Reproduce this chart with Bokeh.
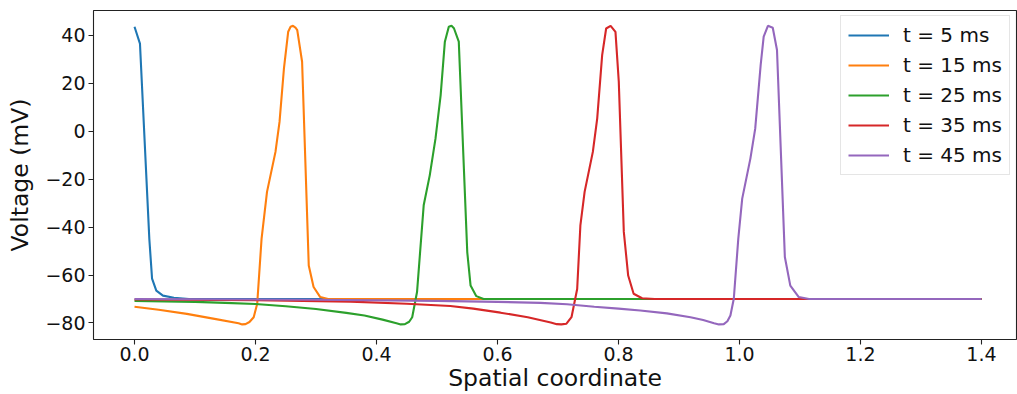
from bokeh.plotting import figure
from bokeh.models import Range1d, FixedTicker, Legend, LegendItem
from bokeh.embed import file_html
from bokeh.resources import INLINE

# ---- data ----
labels = ["t = 5 ms", "t = 15 ms", "t = 25 ms", "t = 35 ms", "t = 45 ms"]
colors = ["#1f77b4", "#ff7f0e", "#2ca02c", "#d62728", "#9467bd"]

x_t5 = [0.0, 0.009, 0.0245, 0.029, 0.036, 0.047, 0.065, 0.09, 1.4]
v_t5 = [43.6, 36.6, -45.0, -61.5, -66.5, -68.6, -69.5, -70.0, -70.0]

x_t15 = [0.0, 0.04, 0.0865, 0.13, 0.172, 0.178, 0.1835, 0.19, 0.197, 0.2028, 0.21, 0.219,
         0.233, 0.2397, 0.247, 0.254, 0.258, 0.262, 0.266, 0.269, 0.277, 0.288, 0.296,
         0.307, 0.32, 1.4]
v_t15 = [-73.2, -74.5, -76.2, -78.2, -80.1, -80.6, -80.5, -79.6, -77.6, -72.0, -44.9, -25.3,
         -8.6, 3.9, 26.2, 41.5, 43.6, 44.0, 43.3, 42.2, 29.0, -56.0, -65.0,
         -69.2, -70.0, -70.0]

x_t25 = [0.0, 0.1, 0.15, 0.2, 0.25, 0.3, 0.35, 0.38, 0.41, 0.433, 0.44, 0.447, 0.454, 0.459,
         0.467, 0.478, 0.488, 0.4975, 0.506, 0.513, 0.5195, 0.524, 0.528, 0.536, 0.55,
         0.5555, 0.565, 0.577, 1.4]
v_t25 = [-70.8, -71.2, -71.6, -72.1, -73.0, -74.2, -75.8, -76.9, -78.6, -80.1, -80.6, -80.5,
         -79.5, -77.6, -67.1, -30.9, -18.4, -3.1, 15.0, 37.4, 43.6, 44.0, 43.0, 37.4, -50.4,
         -64.4, -68.8, -70.0, -70.0]

x_t35 = [0.0, 0.2, 0.357, 0.45, 0.522, 0.56, 0.605, 0.65, 0.688, 0.698, 0.7055, 0.714,
         0.7223, 0.7317, 0.737, 0.744, 0.7576, 0.7648, 0.773, 0.7796, 0.787, 0.795, 0.8005,
         0.8088, 0.816, 0.825, 0.839, 0.86, 1.4]
v_t35 = [-70.2, -70.5, -71.1, -72.0, -72.9, -74.0, -75.7, -77.6, -79.8, -80.5, -80.6, -80.3,
         -77.6, -65.8, -39.3, -25.3, -8.6, 5.3, 31.8, 42.9, 44.0, 41.5, 20.6,
         -42.0, -60.2, -67.8, -69.7, -70.0, -70.0]

x_t45 = [0.0, 0.3, 0.5, 0.6, 0.671, 0.715, 0.76, 0.8, 0.836, 0.88, 0.919, 0.94, 0.958, 0.966,
         0.974, 0.98, 0.985, 0.9906, 0.998, 1.0045, 1.018, 1.026, 1.035, 1.04, 1.047, 1.055,
         1.062, 1.075, 1.084, 1.098, 1.115, 1.4]
v_t45 = [-70.0, -70.3, -70.8, -71.2, -71.6, -72.2, -73.2, -74.0, -74.8, -76.0, -77.6, -78.8,
         -80.1, -80.6, -80.5, -79.3, -76.9, -69.9, -44.9, -28.1, -11.4, 1.1, 27.6, 39.5, 44.0,
         43.2, 33.9, -52.5, -64.4, -69.2, -70.0, -70.0]

series_x = [x_t5, x_t15, x_t25, x_t35, x_t45]
series_v = [v_t5, v_t15, v_t25, v_t35, v_t45]

x_ticks = [0.0, 0.2, 0.4, 0.6, 0.8, 1.0, 1.2, 1.4]
x_tick_labels = ["0.0", "0.2", "0.4", "0.6", "0.8", "1.0", "1.2", "1.4"]
y_ticks = [-80, -60, -40, -20, 0, 20, 40]
y_tick_labels = ["\u221280", "\u221260", "\u221240", "\u221220", "0", "20", "40"]

FONT = "DejaVu Sans"

p = figure(width=1017, height=394, output_backend="svg", toolbar_location=None,
           x_range=Range1d(-0.0678, 1.4579), y_range=Range1d(-86.9, 50.4),
           min_border_left=93, min_border_right=1, min_border_top=10, min_border_bottom=54)

p.background_fill_color = "white"
p.border_fill_color = "white"
p.outline_line_color = "#222222"
p.outline_line_width = 1.1
p.xgrid.visible = False
p.ygrid.visible = False

items = []
for xs, vs, c, lab in zip(series_x, series_v, colors, labels):
    r = p.line(xs, vs, line_color=c, line_width=2.1)
    items.append(LegendItem(label=lab, renderers=[r]))

for ax in (p.xaxis[0], p.yaxis[0]):
    ax.axis_line_color = None
    ax.major_tick_line_color = "#222222"
    ax.major_tick_line_width = 1.1
    ax.major_tick_out = 5
    ax.major_tick_in = 0
    ax.minor_tick_line_color = None
    ax.major_label_text_font = FONT
    ax.major_label_text_font_size = "19px"
    ax.major_label_text_color = "#111111"
    ax.axis_label_text_font = FONT
    ax.axis_label_text_font_size = "23.5px"
    ax.axis_label_text_font_style = "normal"
    ax.axis_label_text_color = "#111111"

p.xaxis[0].ticker = FixedTicker(ticks=x_ticks)
p.xaxis[0].major_label_overrides = dict(zip(x_ticks, x_tick_labels))
p.xaxis[0].axis_label = "Spatial coordinate"
p.xaxis[0].major_label_standoff = 2
p.xaxis[0].axis_label_standoff = 0

p.yaxis[0].ticker = FixedTicker(ticks=y_ticks)
p.yaxis[0].major_label_overrides = dict(zip(y_ticks, y_tick_labels))
p.yaxis[0].axis_label = "Voltage (mV)"
p.yaxis[0].major_label_standoff = 3
p.yaxis[0].axis_label_standoff = 8

legend = Legend(items=items, location=(747, 164), margin=0,
                padding=7, spacing=6, glyph_width=41, glyph_height=20,
                label_height=20, label_standoff=14,
                label_text_font=FONT, label_text_font_size="20px",
                label_text_color="#111111",
                border_line_color="#cccccc", border_line_width=1,
                background_fill_color="white", background_fill_alpha=0.8)
p.add_layout(legend)

open("out.html", "w").write(file_html(p, INLINE))
